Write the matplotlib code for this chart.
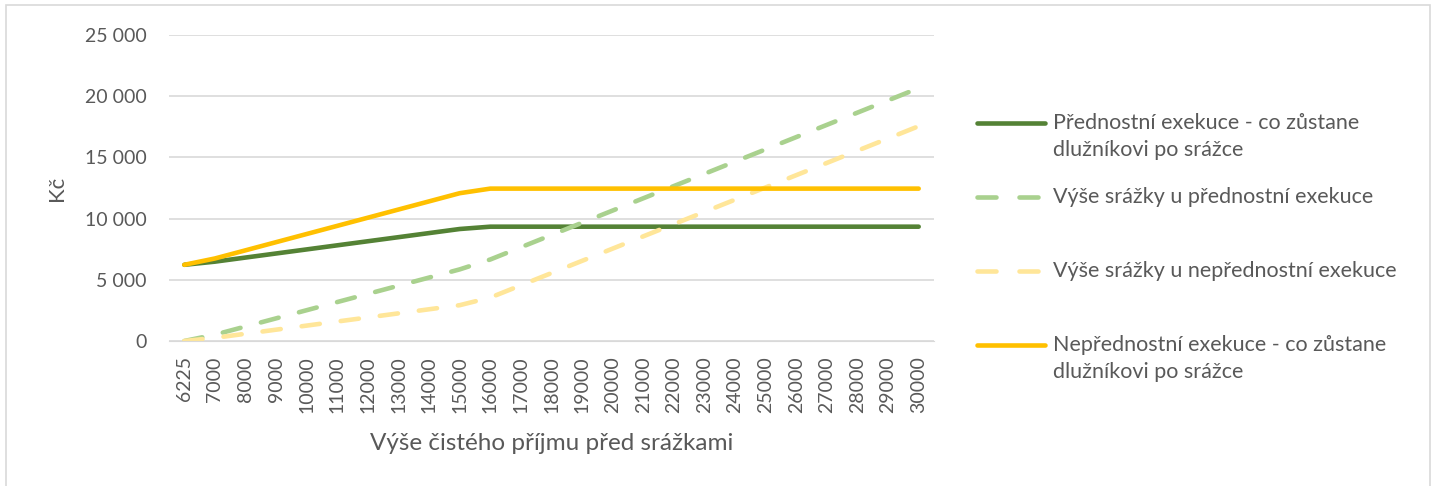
import matplotlib.pyplot as plt
from matplotlib.patches import Rectangle
from matplotlib.lines import Line2D

plt.rcParams['font.family'] = ['Lato', 'DejaVu Sans']

incomes = ['6225', '7000', '8000', '9000', '10000', '11000', '12000', '13000',
           '14000', '15000', '16000', '17000', '18000', '19000', '20000', '21000',
           '22000', '23000', '24000', '25000', '26000', '27000', '28000', '29000', '30000']

# co zůstane dlužníkovi - přednostní exekuce
kept_pref = [6225, 6483, 6817, 7150, 7483, 7817, 8150, 8483, 8817, 9150,
             9340, 9340, 9340, 9340, 9340, 9340, 9340, 9340, 9340, 9340,
             9340, 9340, 9340, 9340, 9340]
# výše srážky - přednostní exekuce
ded_pref = [0, 517, 1183, 1850, 2517, 3183, 3850, 4517, 5183, 5850,
            6660, 7660, 8660, 9660, 10660, 11660, 12660, 13660, 14660, 15660,
            16660, 17660, 18660, 19660, 20660]
# výše srážky - nepřednostní exekuce
ded_nonpref = [0, 258, 592, 925, 1258, 1592, 1925, 2258, 2592, 2925,
               3550, 4550, 5550, 6550, 7550, 8550, 9550, 10550, 11550, 12550,
               13550, 14550, 15550, 16550, 17550]
# co zůstane dlužníkovi - nepřednostní exekuce
kept_nonpref = [6225, 6742, 7408, 8075, 8742, 9408, 10075, 10742, 11408, 12075,
                12450, 12450, 12450, 12450, 12450, 12450, 12450, 12450, 12450, 12450,
                12450, 12450, 12450, 12450, 12450]

labels = ['Přednostní exekuce - co zůstane\ndlužníkovi po srážce',
          'Výše srážky u přednostní exekuce',
          'Výše srážky u nepřednostní exekuce',
          'Nepřednostní exekuce - co zůstane\ndlužníkovi po srážce']
colors = ['#548235', '#a9d18e', '#ffe699', '#ffc000']
dashed = [False, True, True, False]
series = [kept_pref, ded_pref, ded_nonpref, kept_nonpref]

W, H = 1439, 486
fig = plt.figure(figsize=(W / 100, H / 100), dpi=100)
ax = fig.add_axes([169 / W, 1 - 341 / H, (934 - 169) / W, (341 - 35) / H])

x = range(len(incomes))
for vals, c, d in zip(series, colors, dashed):
    if d:
        ax.plot(x, vals, color=c, lw=3.3, dashes=(4, 4.6), dash_capstyle='round')
    else:
        ax.plot(x, vals, color=c, lw=3.3, solid_capstyle='round')

ax.set_xlim(-0.5, len(incomes) - 0.5)
ax.set_ylim(0, 25000)
ax.set_yticks(range(0, 25001, 5000))
ax.set_yticklabels([f'{v:,}'.replace(',', ' ') for v in range(0, 25001, 5000)])
ax.set_xticks(list(x))
ax.set_xticklabels(incomes, rotation=90)
ax.grid(axis='y', color='#d9d9d9', lw=1.2)
ax.set_axisbelow(True)
for s in ax.spines.values():
    s.set_visible(False)
ax.spines['bottom'].set_visible(True)
ax.spines['bottom'].set_color('#d9d9d9')
ax.tick_params(length=0, labelsize=14, colors='#595959')
ax.tick_params(axis='y', pad=16)
ax.tick_params(axis='x', pad=11)

ax.set_xlabel('Výše čistého příjmu před srážkami', fontsize=17.5, color='#595959', va='center')
ax.xaxis.set_label_coords(0.5, (341 - 443) / 306)
ax.set_ylabel('Kč', fontsize=16, color='#595959', va='center')
ax.yaxis.set_label_coords((57 - 169) / 765, 0.5)

# legend drawn by hand so the handle sits on the first text line
handle_y = [122.7, 196.7, 270.7, 345]
for hy, lab, c, d in zip(handle_y, labels, colors, dashed):
    yy = 1 - hy / H
    if d:
        segs = [(977, 996), (1019, 1038)]
    else:
        segs = [(977, 1045)]
    for x0, x1 in segs:
        fig.lines.append(Line2D([x0 / W, x1 / W], [yy, yy], transform=fig.transFigure,
                                color=c, lw=3.3, solid_capstyle='round'))
    for k, line in enumerate(lab.split('\n')):
        fig.text(1053 / W, 1 - (hy + 6 + 27 * k) / H, line, fontsize=15.5,
                 color='#595959', va='baseline', ha='left')

fig.patches.append(Rectangle((6 / W, -0.1), (1430 - 6) / W, 1 - 5 / H + 0.1,
                             transform=fig.transFigure, fill=False,
                             edgecolor='#d9d9d9', lw=1.2))

fig.savefig('out.png', dpi=100)
